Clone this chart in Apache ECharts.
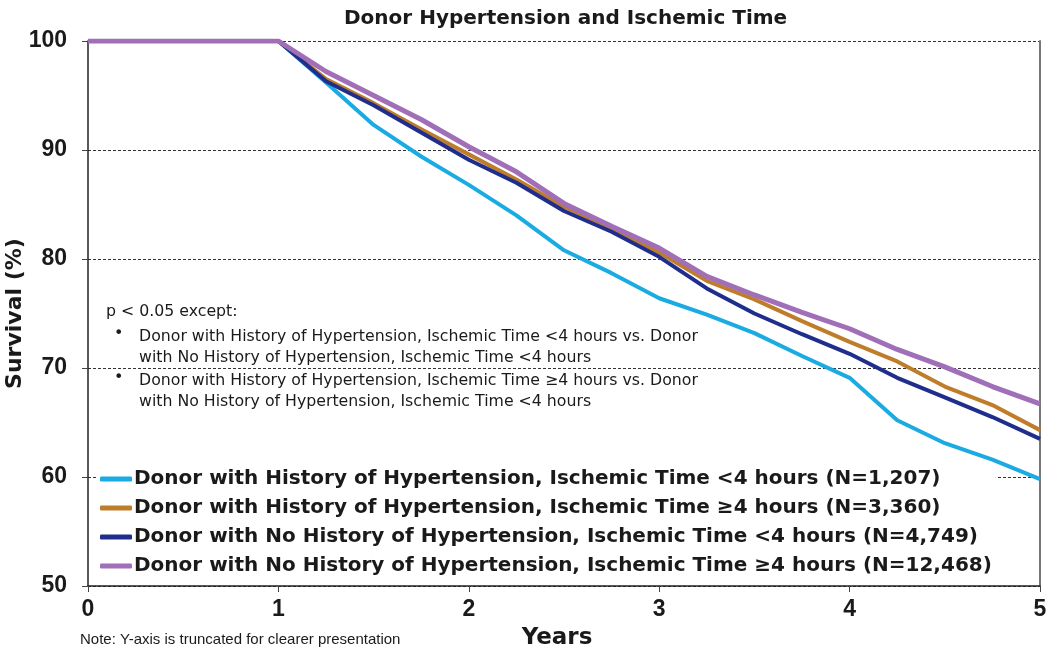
<!DOCTYPE html>
<html>
<head>
<meta charset="utf-8">
<script src="https://cdn.jsdelivr.net/npm/echarts@6/dist/echarts.min.js"></script>
<style>html,body{margin:0;padding:0;background:#fff}#c{width:1050px;height:656px}</style>
</head>
<body>
<div id="c"></div>
<script>
const years = [0,0.25,0.5,0.75,1,1.25,1.5,1.75,2,2.25,2.5,2.75,3,3.25,3.5,3.75,4,4.25,4.5,4.75,5];
const seriesNames = [
  'Donor with History of Hypertension, Ischemic Time <4 hours (N=1,207)',
  'Donor with History of Hypertension, Ischemic Time \u22654 hours (N=3,360)',
  'Donor with No History of Hypertension, Ischemic Time <4 hours (N=4,749)',
  'Donor with No History of Hypertension, Ischemic Time \u22654 hours (N=12,468)'
];
const hxLt4 =  [100,100,100,100,100,96.2,92.3,89.4,86.8,84.0,80.8,78.7,76.4,74.9,73.2,71.1,69.1,65.2,63.1,61.6,59.8];
const hxGe4 =  [100,100,100,100,100,96.5,94.3,91.9,89.6,87.3,84.8,82.8,80.6,78.0,76.3,74.3,72.4,70.6,68.3,66.6,64.3];
const noLt4 =  [100,100,100,100,100,96.3,94.1,91.6,89.1,87.0,84.4,82.5,80.2,77.3,75.0,73.1,71.3,69.1,67.3,65.5,63.5];
const noGe4 =  [100,100,100,100,100,97.2,95.0,92.8,90.3,88.0,85.1,83.0,81.0,78.4,76.7,75.1,73.6,71.7,70.1,68.3,66.7];
const yTicks = [50,60,70,80,90,100];
const xTicks = [0,1,2,3,4,5];

const colors = ['#1aabe3','#bf7d2b','#1f2e8c','#a06fb8'];
const widths = [4,4,4,5];
const allData = [hxLt4,hxGe4,noLt4,noGe4];
const ARIAL = '"Liberation Sans", Arial, sans-serif';
const WIDE = '"DejaVu Sans", sans-serif';

const chart = echarts.init(document.getElementById('c'), null, {renderer:'canvas'});
chart.setOption({
  animation:false,
  textStyle:{fontFamily:ARIAL},
  title:{
    text:'Donor Hypertension and Ischemic Time',
    left:339, top:4,
    textStyle:{fontSize:20,fontWeight:'bold',color:'#1a1a1a',fontFamily:WIDE}
  },
  grid:{left:88,right:10,top:41,bottom:70,containLabel:false,outerBoundsMode:'none'},
  xAxis:{
    type:'value',min:xTicks[0],max:xTicks[xTicks.length-1],interval:1,
    name:'Years',nameLocation:'middle',nameGap:41,nameMoveOverlap:false,
    nameTextStyle:{fontSize:23,fontWeight:'bold',color:'#1a1a1a',fontFamily:WIDE,padding:[0,14,0,0]},
    axisLine:{onZero:false,lineStyle:{color:'#222',width:1.5}},
    axisTick:{show:true,length:6,lineStyle:{color:'#444',width:1}},
    axisLabel:{fontSize:23,fontWeight:'bold',color:'#1a1a1a',margin:12,fontFamily:ARIAL},
    splitLine:{show:false}
  },
  yAxis:[{
    type:'value',min:yTicks[0],max:yTicks[yTicks.length-1],interval:10,
    name:'Survival (%)',nameLocation:'middle',nameGap:62,nameMoveOverlap:false,
    nameTextStyle:{fontSize:22,fontWeight:'bold',color:'#1a1a1a',fontFamily:WIDE},
    axisLine:{show:true,lineStyle:{color:'#222',width:1.5}},
    axisTick:{show:true,length:6,lineStyle:{color:'#444',width:1}},
    axisLabel:{fontSize:23,fontWeight:'bold',color:'#1a1a1a',margin:21,fontFamily:ARIAL},
    splitLine:{show:true,lineStyle:{color:'#333',type:[3,2],width:1}}
  },{
    type:'value',min:yTicks[0],max:yTicks[yTicks.length-1],interval:10,position:'right',
    axisLine:{show:true,lineStyle:{color:'#777',width:2}},
    axisTick:{show:false},axisLabel:{show:false},splitLine:{show:false}
  }],
  legend:{
    orient:'vertical',left:96,top:466,
    itemWidth:32,itemHeight:5,itemGap:9,
    backgroundColor:'#fff',padding:[3,4,3,4],
    icon:'roundRect',
    textStyle:{fontSize:20,fontWeight:'bold',color:'#1a1a1a',fontFamily:WIDE,padding:[0,0,0,-3]},
    data:seriesNames
  },
  series:allData.map((d,i)=>({
    name:seriesNames[i],type:'line',symbol:'none',
    data:years.map((x,j)=>[x,d[j]]),
    lineStyle:{color:colors[i],width:widths[i]},
    itemStyle:{color:colors[i]},
    z:2+i
  })),
  graphic:[
    {type:'text',left:106,top:304,style:{text:'p < 0.05 except:',fontSize:15.75,fill:'#1a1a1a',fontFamily:WIDE}},
    {type:'text',left:114,top:326,style:{text:'\u2022',fontSize:16,fill:'#1a1a1a',fontFamily:WIDE}},
    {type:'text',left:139,top:326,style:{text:'Donor with History of Hypertension, Ischemic Time <4 hours vs. Donor\nwith No History of Hypertension, Ischemic Time <4 hours',fontSize:15.75,lineHeight:21,fill:'#1a1a1a',fontFamily:WIDE}},
    {type:'text',left:114,top:370,style:{text:'\u2022',fontSize:16,fill:'#1a1a1a',fontFamily:WIDE}},
    {type:'text',left:139,top:370,style:{text:'Donor with History of Hypertension, Ischemic Time \u22654 hours vs. Donor\nwith No History of Hypertension, Ischemic Time <4 hours',fontSize:15.75,lineHeight:21,fill:'#1a1a1a',fontFamily:WIDE}},
    {type:'text',left:80,top:632,style:{text:'Note: Y-axis is truncated for clearer presentation',fontSize:15,fill:'#1a1a1a',fontFamily:ARIAL}}
  ]
});
</script>
</body>
</html>
